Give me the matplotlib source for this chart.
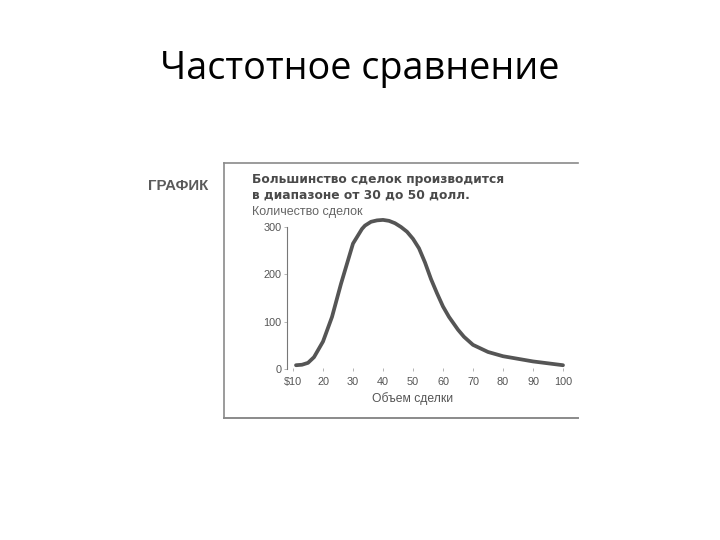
import matplotlib.pyplot as plt
from matplotlib.lines import Line2D

volume = [11, 13, 15, 17, 20, 23, 26, 30, 33, 34, 36, 38, 40, 42, 44, 46, 48, 50, 52, 54,
          56, 58, 60, 62, 65, 67, 70, 75, 80, 90, 100]
deals = [8, 9, 13, 25, 58, 110, 180, 265, 296, 303, 311, 314, 315, 313, 308, 300, 290, 275, 255, 225,
         190, 160, 132, 110, 83, 68, 51, 36, 27, 16, 8]
xticks = [10, 20, 30, 40, 50, 60, 70, 80, 90, 100]
xlabels = ['$10', '20', '30', '40', '50', '60', '70', '80', '90', '100']
yticks = [0, 100, 200, 300]

W, H = 720, 540
fig = plt.figure(figsize=(7.2, 5.4), dpi=100)

fig.text(360 / W, 1 - 69 / H, 'Частотное сравнение', ha='center', va='center',
         fontsize=27.2, family=['Open Sans', 'DejaVu Sans'], color='black')

# frame of the scanned figure (left, top, bottom lines)
gray = '#8a8a8a'
fig.add_artist(Line2D([224 / W, 224 / W], [1 - 163 / H, 1 - 418 / H], color=gray, lw=1.2))
fig.add_artist(Line2D([224 / W, 578 / W], [1 - 163 / H, 1 - 163 / H], color=gray, lw=1.2))
fig.add_artist(Line2D([224 / W, 578 / W], [1 - 418 / H, 1 - 418 / H], color=gray, lw=1.4))

txt = '#4a4a4a'
fig.text(148 / W, 1 - 186 / H, 'ГРАФИК', ha='left', va='center', fontsize=10.8,
         fontweight='bold', color='#5a5a5a', family='Liberation Sans')
fig.text(252 / W, 1 - 180 / H, 'Большинство сделок производится',
         ha='left', va='center', fontsize=8.8, fontweight='bold', color=txt, family='DejaVu Sans')
fig.text(252 / W, 1 - 195 / H, 'в диапазоне от 30 до 50 долл.',
         ha='left', va='center', fontsize=8.8, fontweight='bold', color=txt, family='DejaVu Sans')
fig.text(252 / W, 1 - 212 / H, 'Количество сделок', ha='left', va='center',
         fontsize=9, color='#666666', family='Liberation Sans')
fig.text(413 / W, 1 - 399 / H, 'Объем сделки', ha='center', va='center',
         fontsize=8.7, color='#555555', family='Liberation Sans')

# axes: x 10..100 -> px 293..563, y 0..300 -> px 369..227
x0, x1 = 8, 101
px_per_x = 30 / 10
y0, y1 = -5, 330
px_per_y = 142 / 300
left = (293 - (10 - x0) * px_per_x) / W
width = (x1 - x0) * px_per_x / W
bottom = 1 - (369 + (0 - y0) * px_per_y) / H
height = (y1 - y0) * px_per_y / H
ax = fig.add_axes([left, bottom, width, height])
ax.plot(volume, deals, color='#555555', lw=2.7, solid_capstyle='round', solid_joinstyle='round')
ax.set_xlim(x0, x1)
ax.set_ylim(y0, y1)
for s in ['top', 'right', 'bottom']:
    ax.spines[s].set_visible(False)
ax.spines['left'].set_bounds(0, 300)
ax.spines['left'].set_color('#777777')
ax.spines['left'].set_linewidth(0.8)
ax.set_xticks(xticks)
ax.set_xticklabels(xlabels)
ax.set_yticks(yticks)
ax.tick_params(axis='both', labelsize=7.8, labelcolor='#555555', color='#aaaaaa',
               length=2, width=0.6, pad=2)
ax.tick_params(axis='x', direction='in', pad=4)
for lab in ax.get_xticklabels() + ax.get_yticklabels():
    lab.set_family('Liberation Sans')

fig.savefig('out.png', dpi=100)
